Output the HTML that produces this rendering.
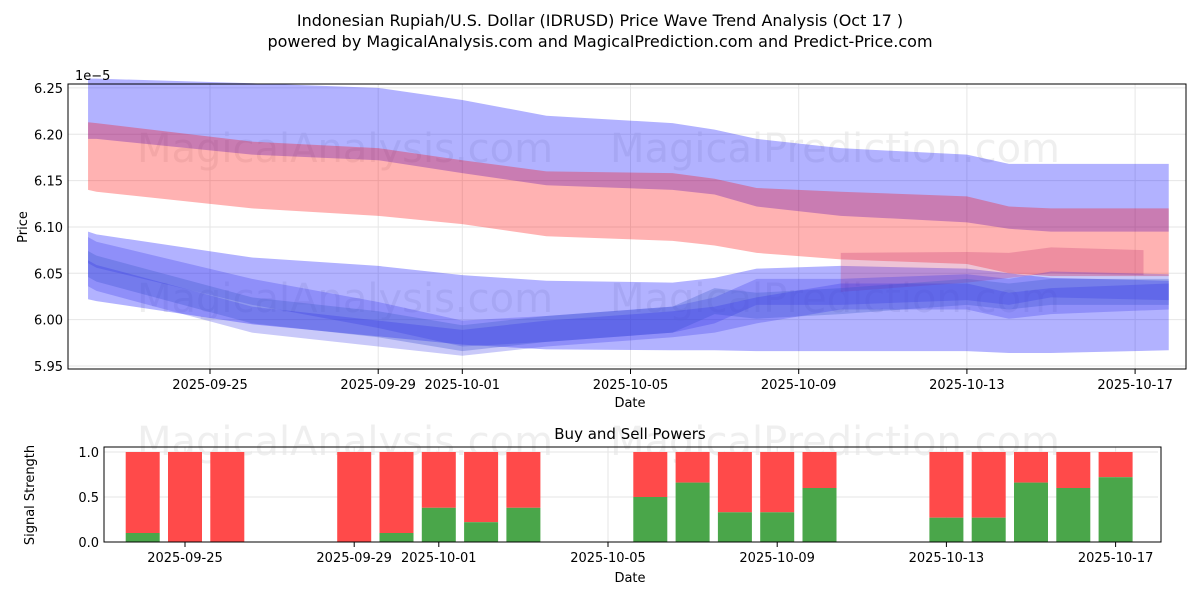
<!DOCTYPE html>
<html><head><meta charset="utf-8"><style>
body{margin:0;background:#fff;font-family:"Liberation Sans","DejaVu Sans",sans-serif}
svg text{font-family:"DejaVu Sans","Liberation Sans",sans-serif}
</style></head><body>
<svg id="c" width="1200" height="600" xmlns="http://www.w3.org/2000/svg">
<text x="600" y="26" font-size="16" text-anchor="middle">Indonesian Rupiah/U.S. Dollar (IDRUSD) Price Wave Trend Analysis (Oct 17 )</text>
<text x="600" y="47" font-size="16" text-anchor="middle">powered by MagicalAnalysis.com and MagicalPrediction.com and Predict-Price.com</text>
<g id="topg"></g><g id="botg"></g>
</svg>
<script>
// Top chart data (day offsets from 2025-09-25)
const bandDays=[-2.9,-2.7,1,4,6,8,11,12,13,15,18,19,20,22.8];
const upperBlueTop=[6.26,6.26,6.255,6.25,6.237,6.22,6.212,6.205,6.195,6.185,6.178,6.168,6.168,6.168];
const upperBlueBot=[6.195,6.195,6.178,6.172,6.158,6.145,6.14,6.135,6.122,6.112,6.105,6.098,6.095,6.095];
const redTop=[6.213,6.212,6.192,6.185,6.172,6.16,6.158,6.152,6.142,6.138,6.133,6.122,6.12,6.12];
const redBot=[6.14,6.138,6.12,6.112,6.103,6.09,6.085,6.08,6.072,6.065,6.06,6.05,6.047,6.047];
const lowDays=[-2.9,-2.7,1,4,6,8,11,12,13,15,18,19,20,22.8];
const wideTop=[6.095,6.092,6.067,6.058,6.048,6.042,6.04,6.045,6.055,6.058,6.055,6.05,6.045,6.042];
const wideBot=[6.022,6.02,5.995,5.982,5.973,5.968,5.967,5.967,5.966,5.966,5.966,5.964,5.964,5.967];
const c1=[6.075,6.07,6.03,6.005,5.985,5.99,6.0,6.01,6.03,6.03,6.035,6.03,6.038,6.035];
const c2=[6.06,6.055,6.01,5.995,5.98,5.99,6.0,6.02,6.015,6.02,6.03,6.025,6.03,6.03];
const c3=[6.05,6.045,6.0,5.985,5.975,5.985,5.995,6.0,6.01,6.025,6.025,6.015,6.02,6.025];
const pinkDays=[15,18,19,20,22.2];
const pinkTop=[6.072,6.073,6.072,6.078,6.075];
const pinkBot=[6.03,6.04,6.045,6.05,6.048];
const yTicks=[5.95,6.00,6.05,6.10,6.15,6.20,6.25];
const xTickDays=[0,4,6,10,14,18,22];
const xTickLabels=["2025-09-25","2025-09-29","2025-10-01","2025-10-05","2025-10-09","2025-10-13","2025-10-17"];
// Bottom chart data
const barDays=[-1,0,1,4,5,6,7,8,11,12,13,14,15,18,19,20,21,22];
const buyPower=[0.1,0,0,0,0.1,0.38,0.22,0.38,0.5,0.66,0.33,0.33,0.6,0.27,0.27,0.66,0.6,0.72];
const bTicks=[0,0.5,1.0];

const NS="http://www.w3.org/2000/svg";
const svgEl=document.getElementById('c');
function mk(t,a,p){const e=document.createElementNS(NS,t);for(const k in a)e.setAttribute(k,a[k]);(p||svgEl).appendChild(e);return e;}
const X=d=>210+42.05*d, Y=v=>366-(v-5.95)*927;
const bx=d=>185+42.3*d, by=v=>542-v*90;
const topG=document.getElementById('topg'), botG=document.getElementById('botg');
[[345,162],[835,162],[345,312],[835,312],[345,455],[835,455]].forEach((p,i)=>{const t=mk('text',{x:p[0],y:p[1],'font-size':40,'text-anchor':'middle',fill:'rgba(150,150,150,0.15)'},topG);t.textContent=i%2?"MagicalPrediction.com":"MagicalAnalysis.com";

});
yTicks.forEach(v=>{mk('line',{x1:68,x2:1186,y1:Y(v),y2:Y(v),stroke:'#e6e6e6'},topG);const t=mk('text',{x:63,y:Y(v)+5,'font-size':13,'text-anchor':'end'},topG);t.textContent=v.toFixed(2);

});
xTickDays.forEach((d,i)=>{mk('line',{x1:X(d),x2:X(d),y1:84,y2:369,stroke:'#e6e6e6'},topG);mk('line',{x1:X(d),x2:X(d),y1:369,y2:374,stroke:'#000'},topG);const t=mk('text',{x:X(d),y:389,'font-size':13,'text-anchor':'middle'},topG);t.textContent=xTickLabels[i];

});
function band(days,tp,bt,fill,name){let pts=days.map((d,i)=>X(d)+','+Y(tp[i]));for(let i=days.length-1;i>=0;i--)pts.push(X(days[i])+','+Y(bt[i]));const p=mk('polygon',{points:pts.join(' '),fill:fill},topG);

}
band(bandDays,upperBlueTop,upperBlueBot,'rgba(0,0,255,0.3)','upper-blue-band');
band(bandDays,redTop,redBot,'rgba(255,0,0,0.3)','red-band');
band(lowDays,wideTop,wideBot,'rgba(0,0,255,0.3)','lower-wide-band');
band(pinkDays,pinkTop,pinkBot,'rgba(200,60,120,0.3)','pink-band');
[c1,c2,c3].forEach((c,k)=>band(lowDays,c.map(v=>v+0.014),c.map(v=>v-0.014),k==1?'rgba(60,90,200,0.3)':'rgba(40,40,230,0.25)','trend-band'));
mk('rect',{x:68,y:84,width:1118,height:285,fill:'none',stroke:'#000'},topG);
let t=mk('text',{x:75,y:80,'font-size':13},topG);t.textContent="1e−5";


t=mk('text',{x:27,y:227,'font-size':13,'text-anchor':'middle',transform:'rotate(-90 27 227)'},topG);t.textContent="Price";


t=mk('text',{x:630,y:407,'font-size':13,'text-anchor':'middle'},topG);t.textContent="Date";


t=mk('text',{x:630,y:439,'font-size':15,'text-anchor':'middle'},botG);t.textContent="Buy and Sell Powers";


bTicks.forEach(v=>{mk('line',{x1:104,x2:1158,y1:by(v),y2:by(v),stroke:'#e6e6e6'},botG);const t=mk('text',{x:99,y:by(v)+5,'font-size':13,'text-anchor':'end'},botG);t.textContent=v.toFixed(1);

});
xTickDays.forEach((d,i)=>{mk('line',{x1:bx(d),x2:bx(d),y1:447,y2:542,stroke:'#e6e6e6'},botG);mk('line',{x1:bx(d),x2:bx(d),y1:542,y2:547,stroke:'#000'},botG);const t=mk('text',{x:bx(d),y:562,'font-size':13,'text-anchor':'middle'},botG);t.textContent=xTickLabels[i];

});
barDays.forEach((d,i)=>{const s=mk('rect',{x:bx(d)-17,y:by(1),width:34,height:by(buyPower[i])-by(1),fill:'#ff4a4a'},botG);


const b=mk('rect',{x:bx(d)-17,y:by(buyPower[i]),width:34,height:by(0)-by(buyPower[i]),fill:'#4aa64a'},botG);

});
mk('rect',{x:104,y:447,width:1057,height:95,fill:'none',stroke:'#000'},botG);
t=mk('text',{x:34,y:495,'font-size':13,'text-anchor':'middle',transform:'rotate(-90 34 495)'},botG);t.textContent="Signal Strength";


t=mk('text',{x:630,y:582,'font-size':13,'text-anchor':'middle'},botG);t.textContent="Date";


</script>
</body></html>
